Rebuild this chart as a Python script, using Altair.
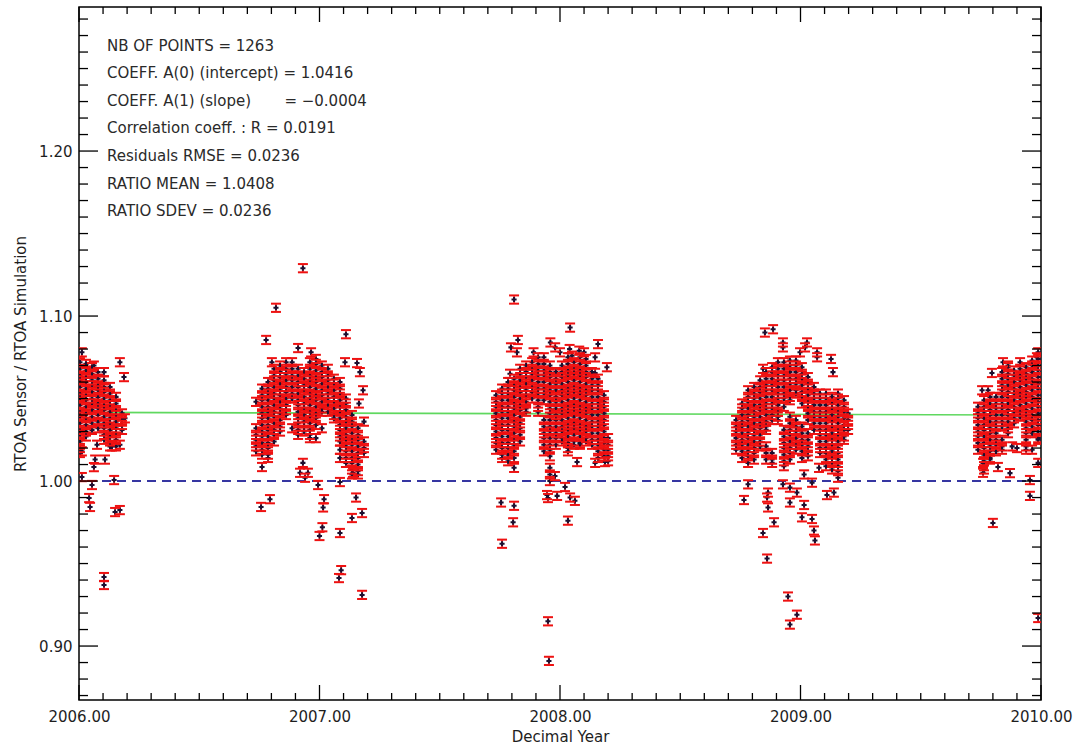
import altair as alt
import pandas as pd

# ---------------------------------------------------------------------------
# Sensor / simulation TOA reflectance ratios, grouped by acquisition season.
# Dense parts of each season are listed as (decimal year, [ratios]) columns,
# isolated measurements as (decimal year, ratio) pairs.
# ---------------------------------------------------------------------------
season_2006 = [
    (2006.004, [1.072, 1.068, 1.064, 1.061, 1.057, 1.053, 1.050, 1.046, 1.042, 1.039, 1.035, 1.031, 1.028, 1.024, 1.020, 1.017]),
    (2006.029, [1.071, 1.067, 1.063, 1.060, 1.056, 1.052, 1.049, 1.045, 1.041, 1.038, 1.034, 1.030, 1.027]),
    (2006.054, [1.069, 1.065, 1.061, 1.058, 1.054, 1.050, 1.047, 1.043, 1.039, 1.035, 1.031]),
    (2006.079, [1.066, 1.062, 1.058, 1.055, 1.051, 1.047, 1.044, 1.040, 1.036, 1.032]),
    (2006.104, [1.061, 1.057, 1.054, 1.050, 1.046, 1.043, 1.039, 1.035, 1.032, 1.028, 1.025]),
    (2006.129, [1.057, 1.053, 1.049, 1.046, 1.042, 1.038, 1.035, 1.031, 1.027, 1.024, 1.021]),
    (2006.154, [1.051, 1.047, 1.043, 1.040, 1.036, 1.032, 1.029, 1.025, 1.021]),
    (2006.179, [1.041, 1.037, 1.034, 1.031]),
]
isolated_2006 = [
    (2006.012, 1.078), (2006.170, 1.072), (2006.062, 1.070), (2006.104, 1.066),
    (2006.187, 1.063), (2006.191, 1.038), (2006.170, 1.022), (2006.137, 1.021),
    (2006.075, 1.022), (2006.012, 1.018), (2006.067, 1.013), (2006.108, 1.013),
    (2006.062, 1.0085), (2006.012, 1.0024), (2006.146, 1.0006), (2006.054, 0.9976),
    (2006.042, 0.9897), (2006.046, 0.9843), (2006.150, 0.9812), (2006.170, 0.9824),
    (2006.104, 0.9418), (2006.104, 0.9370),
]

season_2007 = [
    (2006.736, [1.048, 1.032, 1.028, 1.025, 1.021, 1.018]),
    (2006.761, [1.056, 1.052, 1.049, 1.045, 1.041, 1.038, 1.034, 1.030, 1.027, 1.023, 1.019, 1.016]),
    (2006.786, [1.060, 1.056, 1.053, 1.049, 1.045, 1.042, 1.038, 1.034, 1.031, 1.027, 1.023, 1.020, 1.016, 1.014]),
    (2006.811, [1.068, 1.064, 1.061, 1.057, 1.053, 1.050, 1.046, 1.042, 1.039, 1.035, 1.031, 1.028, 1.024]),
    (2006.836, [1.070, 1.066, 1.063, 1.059, 1.055, 1.052, 1.048, 1.044, 1.041, 1.037, 1.033, 1.030]),
    (2006.861, [1.072, 1.068, 1.065, 1.061, 1.057, 1.054, 1.050, 1.046, 1.043, 1.040]),
    (2006.886, [1.072, 1.068, 1.064, 1.061, 1.057, 1.053, 1.050, 1.032]),
    (2006.911, [1.068, 1.064, 1.060, 1.057, 1.053, 1.049, 1.046, 1.042, 1.038, 1.035, 1.031, 1.028]),
    (2006.936, [1.066, 1.062, 1.058, 1.055, 1.051, 1.047, 1.044, 1.040, 1.036, 1.033, 1.030]),
    (2006.960, [1.072, 1.068, 1.064, 1.061, 1.057, 1.053, 1.050, 1.046, 1.042, 1.039, 1.035, 1.031, 1.028, 1.026]),
    (2006.985, [1.074, 1.071, 1.067, 1.063, 1.060, 1.056, 1.052, 1.049, 1.045, 1.041, 1.038, 1.034, 1.026]),
    (2007.010, [1.070, 1.066, 1.063, 1.059, 1.055, 1.052, 1.048, 1.044, 1.042, 1.032]),
    (2007.035, [1.068, 1.064, 1.061, 1.057, 1.053, 1.050, 1.046, 1.042]),
    (2007.060, [1.062, 1.059, 1.055, 1.051, 1.048, 1.044, 1.040, 1.038]),
    (2007.085, [1.060, 1.056, 1.053, 1.049, 1.045, 1.042, 1.038, 1.034, 1.031, 1.027, 1.024, 1.019, 1.014]),
    (2007.110, [1.050, 1.047, 1.043, 1.039, 1.036, 1.032, 1.028, 1.025, 1.021, 1.018, 1.014, 1.011]),
    (2007.135, [1.040, 1.036, 1.033, 1.029, 1.025, 1.022, 1.018, 1.014, 1.011, 1.007, 1.004]),
    (2007.160, [1.032, 1.028, 1.025, 1.021, 1.017, 1.014, 1.010, 1.006, 1.004]),
    (2007.185, [1.024, 1.020, 1.017]),
]
isolated_2007 = [
    (2006.931, 1.129), (2006.819, 1.105), (2006.778, 1.0855), (2007.110, 1.089),
    (2006.911, 1.0806), (2006.965, 1.078), (2006.802, 1.072), (2007.106, 1.072),
    (2007.156, 1.0715), (2007.168, 1.066), (2007.181, 1.055), (2007.164, 1.047),
    (2007.185, 1.036), (2006.761, 1.0085), (2006.931, 1.011), (2006.952, 1.005),
    (2006.940, 1.002), (2006.994, 0.9976), (2006.794, 0.989), (2006.757, 0.9843),
    (2007.019, 0.989), (2007.015, 0.984), (2007.012, 0.972), (2007.000, 0.9667),
    (2007.085, 0.9685), (2007.152, 0.990), (2007.135, 0.9776), (2007.177, 0.9806),
    (2007.090, 0.946), (2007.081, 0.9412), (2007.177, 0.931), (2007.085, 0.9994),
    (2007.139, 1.005), (2006.919, 1.005),
]

season_2008 = [
    (2007.734, [1.052, 1.048, 1.045, 1.041, 1.037, 1.034, 1.030, 1.026, 1.023, 1.019]),
    (2007.759, [1.056, 1.053, 1.049, 1.045, 1.042, 1.038, 1.034, 1.031, 1.027, 1.023, 1.020, 1.016, 1.014]),
    (2007.784, [1.060, 1.056, 1.053, 1.049, 1.045, 1.042, 1.038, 1.034, 1.031, 1.027, 1.023, 1.020, 1.016, 1.012]),
    (2007.809, [1.062, 1.058, 1.055, 1.051, 1.047, 1.044, 1.040, 1.036, 1.033, 1.029, 1.025, 1.022, 1.018, 1.014]),
    (2007.834, [1.068, 1.065, 1.061, 1.057, 1.054, 1.050, 1.046, 1.043, 1.039, 1.035, 1.032, 1.028, 1.024]),
    (2007.859, [1.070, 1.066, 1.063, 1.059, 1.055, 1.052, 1.048, 1.044, 1.042]),
    (2007.884, [1.072, 1.068, 1.065, 1.061, 1.057, 1.054, 1.050]),
    (2007.909, [1.075, 1.071, 1.067, 1.064, 1.060, 1.056, 1.053, 1.049, 1.045, 1.042]),
    (2007.933, [1.075, 1.071, 1.067, 1.064, 1.060, 1.056, 1.053, 1.049, 1.037, 1.033, 1.029, 1.026, 1.022, 1.018]),
    (2007.958, [1.070, 1.066, 1.063, 1.059, 1.055, 1.052, 1.048, 1.044, 1.041, 1.037, 1.033, 1.030, 1.026, 1.022, 1.019, 1.015, 1.008, 1.004, 1.000]),
    (2007.983, [1.066, 1.062, 1.059, 1.055, 1.051, 1.048, 1.044, 1.040, 1.037, 1.033, 1.029, 1.026, 1.022]),
    (2008.008, [1.070, 1.066, 1.063, 1.059, 1.055, 1.052, 1.048, 1.044, 1.041, 1.037, 1.033, 1.030, 1.026, 1.024]),
    (2008.033, [1.075, 1.071, 1.067, 1.064, 1.060, 1.056, 1.053, 1.049, 1.045, 1.042, 1.038, 1.034, 1.031, 1.027, 1.023, 1.020, 1.018]),
    (2008.058, [1.072, 1.068, 1.065, 1.061, 1.057, 1.054, 1.050, 1.046, 1.043, 1.039, 1.035, 1.032, 1.028, 1.024, 1.022]),
    (2008.083, [1.075, 1.071, 1.067, 1.064, 1.060, 1.056, 1.053, 1.049, 1.045, 1.042, 1.038, 1.034, 1.031, 1.027, 1.023, 1.022]),
    (2008.108, [1.074, 1.070, 1.066, 1.063, 1.059, 1.055, 1.052, 1.048, 1.044, 1.041, 1.037, 1.033, 1.030, 1.026, 1.024]),
    (2008.133, [1.066, 1.062, 1.058, 1.055, 1.051, 1.047, 1.044, 1.040, 1.036, 1.033, 1.029, 1.025, 1.022]),
    (2008.158, [1.062, 1.058, 1.055, 1.051, 1.047, 1.044, 1.040, 1.036, 1.033, 1.029, 1.025, 1.022, 1.018, 1.014]),
    (2008.183, [1.052, 1.048, 1.045, 1.041, 1.037, 1.034, 1.030, 1.026, 1.023, 1.019, 1.015]),
    (2008.200, [1.026, 1.022, 1.019, 1.015, 1.012]),
]
isolated_2008 = [
    (2007.960, 1.084), (2007.980, 1.081), (2008.000, 1.078), (2008.040, 1.080),
    (2008.050, 1.076), (2008.080, 1.079), (2008.100, 1.078), (2007.890, 1.078),
    (2008.146, 1.075), (2007.809, 1.110), (2008.042, 1.093), (2007.825, 1.0855),
    (2008.158, 1.083), (2007.796, 1.081), (2007.821, 1.078), (2008.195, 1.069),
    (2007.792, 1.065), (2008.146, 1.0655), (2007.809, 1.008), (2007.755, 0.987),
    (2007.809, 0.985), (2007.805, 0.975), (2007.759, 0.962), (2007.950, 0.915),
    (2007.954, 0.891), (2007.946, 0.9915), (2007.988, 0.991), (2007.950, 0.9897),
    (2008.021, 0.9964), (2008.042, 0.990), (2008.062, 0.988), (2008.033, 0.976),
    (2008.071, 1.0115), (2008.146, 1.011), (2008.187, 1.0115), (2007.979, 1.003),
]

season_2009 = [
    (2008.732, [1.037, 1.033, 1.030, 1.026, 1.022, 1.019]),
    (2008.757, [1.047, 1.044, 1.040, 1.036, 1.033, 1.029, 1.025, 1.022, 1.018, 1.014]),
    (2008.782, [1.055, 1.051, 1.048, 1.044, 1.040, 1.037, 1.033, 1.029, 1.026, 1.022, 1.018, 1.015, 1.011]),
    (2008.807, [1.057, 1.053, 1.050, 1.046, 1.042, 1.039, 1.035, 1.031, 1.028, 1.024, 1.020, 1.017, 1.013]),
    (2008.832, [1.061, 1.057, 1.054, 1.050, 1.046, 1.043, 1.039, 1.035, 1.032, 1.028, 1.024, 1.021]),
    (2008.857, [1.066, 1.062, 1.058, 1.055, 1.051, 1.047, 1.044, 1.040, 1.036, 1.033, 1.031, 1.021, 1.017, 1.013]),
    (2008.882, [1.069, 1.066, 1.062, 1.058, 1.055, 1.051, 1.047, 1.044, 1.040, 1.037, 1.017, 1.013, 1.011]),
    (2008.906, [1.072, 1.068, 1.064, 1.061, 1.057, 1.053, 1.050, 1.046, 1.042, 1.039, 1.037]),
    (2008.931, [1.072, 1.068, 1.064, 1.061, 1.057, 1.053, 1.050, 1.045, 1.031, 1.027, 1.023, 1.020, 1.016, 1.012, 1.009]),
    (2008.956, [1.073, 1.070, 1.066, 1.062, 1.059, 1.055, 1.051, 1.049, 1.039, 1.035, 1.031, 1.028, 1.024, 1.020, 1.017, 1.013]),
    (2008.981, [1.073, 1.070, 1.066, 1.062, 1.059, 1.055, 1.053, 1.037, 1.033, 1.030, 1.026, 1.022, 1.019]),
    (2009.006, [1.069, 1.065, 1.062, 1.058, 1.054, 1.051, 1.047, 1.033, 1.029, 1.025, 1.022, 1.018, 1.014]),
    (2009.031, [1.063, 1.059, 1.056, 1.052, 1.048, 1.045, 1.041, 1.037, 1.029, 1.025, 1.021, 1.018, 1.015]),
    (2009.056, [1.057, 1.053, 1.050, 1.046, 1.042, 1.039, 1.035, 1.031]),
    (2009.081, [1.053, 1.050, 1.046, 1.042, 1.039, 1.035, 1.031, 1.028, 1.024, 1.020, 1.017]),
    (2009.106, [1.053, 1.050, 1.046, 1.042, 1.039, 1.035, 1.031, 1.028, 1.024, 1.020, 1.017, 1.013, 1.009]),
    (2009.131, [1.051, 1.047, 1.044, 1.040, 1.036, 1.033, 1.029, 1.025, 1.022, 1.018, 1.014, 1.011, 1.007]),
    (2009.156, [1.053, 1.050, 1.046, 1.042, 1.039, 1.035, 1.031, 1.028, 1.024, 1.020, 1.017, 1.013, 1.009, 1.006, 1.002]),
    (2009.181, [1.049, 1.045, 1.042, 1.038, 1.034, 1.031, 1.027, 1.025]),
    (2009.198, [1.041, 1.037, 1.034, 1.031]),
]
isolated_2009 = [
    (2008.852, 1.090), (2008.886, 1.092), (2008.927, 1.084), (2008.927, 1.081),
    (2009.027, 1.084), (2009.019, 1.081), (2008.998, 1.078), (2009.069, 1.078),
    (2009.069, 1.075), (2009.127, 1.074), (2009.135, 1.066), (2008.844, 1.068),
    (2008.782, 0.998), (2008.765, 0.9885), (2008.865, 0.993), (2008.861, 0.990),
    (2008.865, 0.984), (2008.927, 0.998), (2008.956, 0.996), (2008.985, 0.993),
    (2008.956, 0.987), (2009.015, 0.9855), (2009.006, 0.978), (2009.048, 0.977),
    (2008.890, 0.975), (2008.844, 0.9685), (2009.056, 0.970), (2009.060, 0.964),
    (2008.861, 0.953), (2008.948, 0.930), (2008.985, 0.919), (2008.956, 0.913),
    (2009.015, 1.004), (2009.048, 0.999), (2009.110, 0.9915), (2009.139, 0.993),
    (2009.077, 1.008),
]

season_2010 = [
    (2009.738, [1.045, 1.041, 1.038, 1.034, 1.030, 1.027, 1.023, 1.019]),
    (2009.763, [1.049, 1.045, 1.042, 1.038, 1.034, 1.031, 1.027, 1.023, 1.020, 1.016, 1.012, 1.009, 1.007]),
    (2009.788, [1.051, 1.047, 1.043, 1.040, 1.036, 1.032, 1.029, 1.025, 1.021, 1.018, 1.014, 1.013]),
    (2009.813, [1.051, 1.047, 1.044, 1.040, 1.036, 1.033, 1.029, 1.025, 1.022, 1.018]),
    (2009.838, [1.066, 1.062, 1.058, 1.055, 1.051, 1.047, 1.044, 1.040, 1.036, 1.033, 1.025, 1.021, 1.019]),
    (2009.863, [1.069, 1.065, 1.062, 1.058, 1.054, 1.051, 1.047, 1.043, 1.040, 1.036, 1.032, 1.029]),
    (2009.888, [1.067, 1.064, 1.060, 1.056, 1.053, 1.049, 1.045, 1.042, 1.038, 1.035]),
    (2009.913, [1.072, 1.068, 1.064, 1.061, 1.057, 1.053, 1.050, 1.046, 1.042, 1.039]),
    (2009.938, [1.069, 1.065, 1.062, 1.058, 1.054, 1.051, 1.047, 1.043, 1.040, 1.036, 1.032, 1.029, 1.025, 1.021, 1.019]),
    (2009.963, [1.073, 1.070, 1.066, 1.062, 1.059, 1.055, 1.051, 1.048, 1.044, 1.040, 1.037, 1.033, 1.029]),
    (2009.988, [1.078, 1.074, 1.070, 1.067, 1.063, 1.059, 1.056, 1.052, 1.048, 1.045, 1.041, 1.037, 1.034, 1.030, 1.026, 1.025]),
]
isolated_2010 = [
    (2009.755, 1.055), (2009.842, 1.072), (2009.863, 1.070), (2009.796, 1.0655),
    (2009.983, 1.075), (2009.759, 1.011), (2009.759, 1.005), (2009.821, 1.0085),
    (2009.871, 1.0048), (2009.954, 1.0006), (2009.954, 0.991), (2009.800, 0.9746),
    (2009.988, 0.917), (2009.988, 1.011), (2009.963, 1.019), (2009.880, 1.021),
    (2009.900, 1.020), (2009.780, 1.055),
]

# One-sigma uncertainty on each ratio
RATIO_ERR = 0.0025

# Linear regression results and summary statistics
N_POINTS = 1263
A0 = 1.0416       # intercept (at the start of 2006)
A1 = -0.0004      # slope per year
R_COEF = 0.0191
RMSE = 0.0236
RATIO_MEAN = 1.0408
RATIO_SDEV = 0.0236

fit_years = [2006.0, 2010.0]

# Axis ticks
x_major = [2006, 2007, 2008, 2009, 2010]
y_major = [0.90, 1.00, 1.10, 1.20]
x_minor = [round(2006 + 0.1 * i, 1) for i in range(41) if i % 10]
y_minor = [round(0.87 + 0.01 * i, 2) for i in range(42) if (87 + i) % 10]

X_DOMAIN = [2006.0, 2010.0]
Y_DOMAIN = [0.8673, 1.2873]

# ---------------------------------------------------------------------------
rows = []
for season in (season_2006, season_2007, season_2008, season_2009, season_2010):
    for year, ratios in season:
        rows.extend((year, r) for r in ratios)
for extra in (isolated_2006, isolated_2007, isolated_2008, isolated_2009, isolated_2010):
    rows.extend(extra)

pts = pd.DataFrame(rows, columns=["year", "ratio"])
pts["lo"] = pts["ratio"] - RATIO_ERR
pts["hi"] = pts["ratio"] + RATIO_ERR

fit = pd.DataFrame({"year": fit_years})
fit["ratio"] = A0 + A1 * (fit["year"] - 2006.0)

W, H = 962, 693
FONT = "DejaVu Sans"
INK = "#1e1e1e"
RED = "#ee1111"

xs = alt.Scale(domain=X_DOMAIN, nice=False, zero=False)
ys = alt.Scale(domain=Y_DOMAIN, nice=False, zero=False)

x_axis = alt.Axis(
    values=x_major, format=".2f", title="Decimal Year", grid=False, ticks=False,
    domain=False, labelFlush=False, labelFont=FONT, labelFontSize=15,
    labelColor=INK, labelPadding=9, titleFont=FONT, titleFontSize=15,
    titleFontWeight="normal", titleColor=INK, titleX=W / 2, titleY=36,
    titleBaseline="middle",
)
y_axis = alt.Axis(
    values=y_major, format=".2f", title="RTOA Sensor / RTOA Simulation",
    grid=False, ticks=False, domain=False, labelFont=FONT, labelFontSize=15,
    labelColor=INK, labelPadding=7, titleFont=FONT, titleFontSize=15,
    titleFontWeight="normal", titleColor=INK, titleX=-59, titleY=H / 2,
    titleBaseline="middle",
)


def X(field):
    return alt.X(field, scale=xs, axis=x_axis)


def Y(field):
    return alt.Y(field, scale=ys, axis=y_axis)


fit_line = alt.Chart(fit).mark_line(color="#5fd85f", strokeWidth=1.6, clip=True).encode(
    x=X("year:Q"), y=Y("ratio:Q"),
)

unity = alt.Chart(fit).mark_rule(color="#2a2a9c", strokeWidth=1.5, strokeDash=[9, 6]).encode(
    y=alt.datum(1.0, scale=ys, axis=y_axis),
)

base = alt.Chart(pts)
err_bars = base.mark_rule(color=RED, strokeWidth=1.5, clip=True).encode(
    x=X("year:Q"), y=Y("lo:Q"), y2="hi:Q",
)
symbols = base.mark_point(shape="cross", filled=True, size=26, color="#1c1030", opacity=1, clip=True).encode(
    x=X("year:Q"), y=Y("ratio:Q"),
)
cap_lo = base.mark_tick(orient="horizontal", size=10, thickness=2, color=RED, opacity=1, clip=True).encode(
    x=X("year:Q"), y=Y("lo:Q"),
)
cap_hi = base.mark_tick(orient="horizontal", size=10, thickness=2, color=RED, opacity=1, clip=True).encode(
    x=X("year:Q"), y=Y("hi:Q"),
)


# Inward-pointing tick marks on all four sides of the frame
def y_ticks(values, length):
    d = alt.Chart(pd.DataFrame({"v": values}))
    left = d.mark_rule(color="black", strokeWidth=1.3).encode(
        y=Y("v:Q"), x=alt.value(0), x2=alt.value(length))
    right = d.mark_rule(color="black", strokeWidth=1.3).encode(
        y=Y("v:Q"), x=alt.value(W), x2=alt.value(W - length))
    return [left, right]


def x_ticks(values, length):
    d = alt.Chart(pd.DataFrame({"v": values}))
    bottom = d.mark_rule(color="black", strokeWidth=1.3).encode(
        x=X("v:Q"), y=alt.value(H), y2=alt.value(H - length))
    top = d.mark_rule(color="black", strokeWidth=1.3).encode(
        x=X("v:Q"), y=alt.value(0), y2=alt.value(length))
    return [bottom, top]


tick_layers = (
    y_ticks(y_major, 19) + y_ticks(y_minor, 9) + x_ticks(x_major, 15) + x_ticks(x_minor, 7)
)

NB = "\u00a0"
stats_lines = [
    f"NB OF POINTS = {N_POINTS}",
    f"COEFF. A(0) (intercept) = {A0:.4f}",
    f"COEFF. A(1) (slope){NB * 7}= {A1:.4f}".replace("-", "\u2212"),
    f"Correlation coeff. : R = {R_COEF:.4f}",
    f"Residuals RMSE = {RMSE:.4f}",
    f"RATIO MEAN = {RATIO_MEAN:.4f}",
    f"RATIO SDEV = {RATIO_SDEV:.4f}",
]
stats = alt.Chart(fit.head(1)).mark_text(
    align="left", baseline="alphabetic", font=FONT, fontSize=15, color="#2a2a2a",
    lineHeight=27.6,
).encode(x=alt.value(28), y=alt.value(43.5), text=alt.value(stats_lines))

chart = alt.layer(
    fit_line, unity, err_bars, symbols, cap_lo, cap_hi, *tick_layers, stats
).properties(
    width=W, height=H,
    padding={"left": 79, "top": 7, "right": 37, "bottom": 45},
    autosize=alt.AutoSizeParams(type="none"),
    background="white",
).configure_view(stroke="black", strokeWidth=1.5)

chart.save("out.html", embed_options={"renderer": "svg", "actions": False})
